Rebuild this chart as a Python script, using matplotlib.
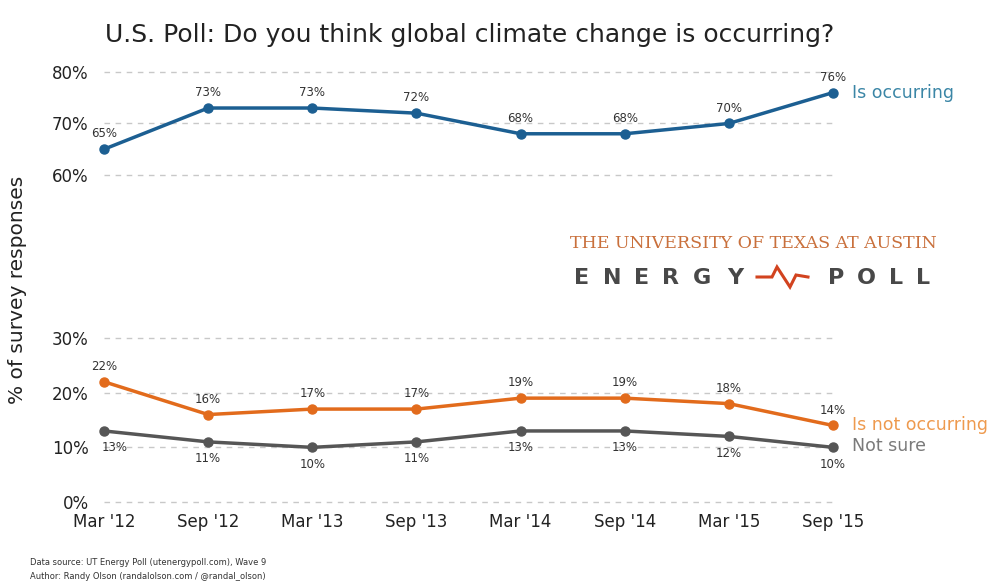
import matplotlib
matplotlib.use("Agg")
import matplotlib.pyplot as plt
from matplotlib.lines import Line2D

waves = ["Mar '12", "Sep '12", "Mar '13", "Sep '13", "Mar '14", "Sep '14", "Mar '15", "Sep '15"]
is_occurring = [65, 73, 73, 72, 68, 68, 70, 76]
not_occurring = [22, 16, 17, 17, 19, 19, 18, 14]
not_sure = [13, 11, 10, 11, 13, 13, 12, 10]

top_ticks = [60, 70, 80]
bottom_ticks = [0, 10, 20, 30]

BLUE = "#1c5f92"
BLUE_TXT = "#3b86a6"
ORANGE = "#e26b1c"
ORANGE_TXT = "#ee9a4e"
GREY = "#565656"
GREY_TXT = "#7a7a7a"
LABEL = "#333333"

fig = plt.figure(figsize=(9.98, 5.86), dpi=100)
fig.patch.set_facecolor("white")

ax_top = fig.add_axes([0.1042, 0.7014, 0.7305, 0.1758])
ax_bot = fig.add_axes([0.1042, 0.1433, 0.7305, 0.2799])

x = list(range(len(waves)))

for ax, ticks in ((ax_top, top_ticks), (ax_bot, bottom_ticks)):
    ax.set_xlim(0, len(waves) - 1)
    ax.set_ylim(ticks[0], ticks[-1])
    ax.set_yticks(ticks)
    ax.set_yticklabels([f"{t}%" for t in ticks], fontsize=12, color="#222222")
    for t in ticks:
        ax.axhline(t, color="#c8c8c8", lw=1, ls=(0, (4, 4)), zorder=0, clip_on=False)
    for s in ax.spines.values():
        s.set_visible(False)
    ax.tick_params(axis="both", length=0, pad=11)
    ax.set_facecolor("none")

ax_top.set_xticks([])
ax_bot.set_xticks(x)
ax_bot.set_xticklabels(waves, fontsize=12, color="#222222")
ax_bot.tick_params(axis="x", pad=8)

def draw_series(ax, vals, color, offset, first_dx=0):
    ax.plot(x, vals, color=color, lw=2.5, marker="o", ms=6.5, clip_on=False, zorder=3,
            solid_capstyle="round")
    for i, v in enumerate(vals):
        dx = first_dx if i == 0 else 0
        ax.annotate(f"{v}%", (i, v), xytext=(dx, offset), textcoords="offset points",
                    ha="center", va="center", fontsize=8.5, color=LABEL)

draw_series(ax_top, is_occurring, BLUE, 11)
draw_series(ax_bot, not_occurring, ORANGE, 11)
draw_series(ax_bot, not_sure, GREY, -12, first_dx=8)

ax_top.annotate("Is occurring", (len(waves) - 1, is_occurring[-1]), xytext=(14, 0),
                textcoords="offset points", va="center", ha="left", fontsize=12.5,
                color=BLUE_TXT, annotation_clip=False)
ax_bot.annotate("Is not occurring", (len(waves) - 1, not_occurring[-1]), xytext=(14, 0),
                textcoords="offset points", va="center", ha="left", fontsize=12.5,
                color=ORANGE_TXT, annotation_clip=False)
ax_bot.annotate("Not sure", (len(waves) - 1, not_sure[-1]), xytext=(14, 1),
                textcoords="offset points", va="center", ha="left", fontsize=12.5,
                color=GREY_TXT, annotation_clip=False)

fig.text(0.471, 0.94, "U.S. Poll: Do you think global climate change is occurring?",
         ha="center", va="center", fontsize=18, color="#222222")
fig.text(0.018, 0.505, "% of survey responses", rotation=90, ha="center", va="center",
         fontsize=14.5, color="#222222")

# Energy Poll logo
fig.text(0.755, 0.585, "THE UNIVERSITY OF TEXAS AT AUSTIN", ha="center", va="center",
         fontsize=12.5, family="DejaVu Serif", color="#c9703c")
logo_letters = ["E", "N", "E", "R", "G", "Y", "P", "O", "L", "L"]
logo_x = [582, 612, 642, 671, 702, 735, 836, 866, 896, 923]
for ch, lx in zip(logo_letters, logo_x):
    fig.text(lx / 998, 0.525, ch, ha="center", va="center", fontsize=16,
             fontweight="bold", color="#484848")
pulse_x = [757, 772, 777, 790, 796, 808]
pulse_y = [277, 277, 267, 287, 275, 277]
fig.add_artist(Line2D([v / 998 for v in pulse_x], [1 - v / 586 for v in pulse_y],
                      transform=fig.transFigure, color="#d2431f", lw=2.2,
                      solid_joinstyle="miter"))

fig.text(0.03, 0.04, "Data source: UT Energy Poll (utenergypoll.com), Wave 9",
         ha="left", va="center", fontsize=6, color="#333333")
fig.text(0.03, 0.017, "Author: Randy Olson (randalolson.com / @randal_olson)",
         ha="left", va="center", fontsize=6, color="#333333")

fig.savefig("out.png", dpi=100, facecolor="white")
